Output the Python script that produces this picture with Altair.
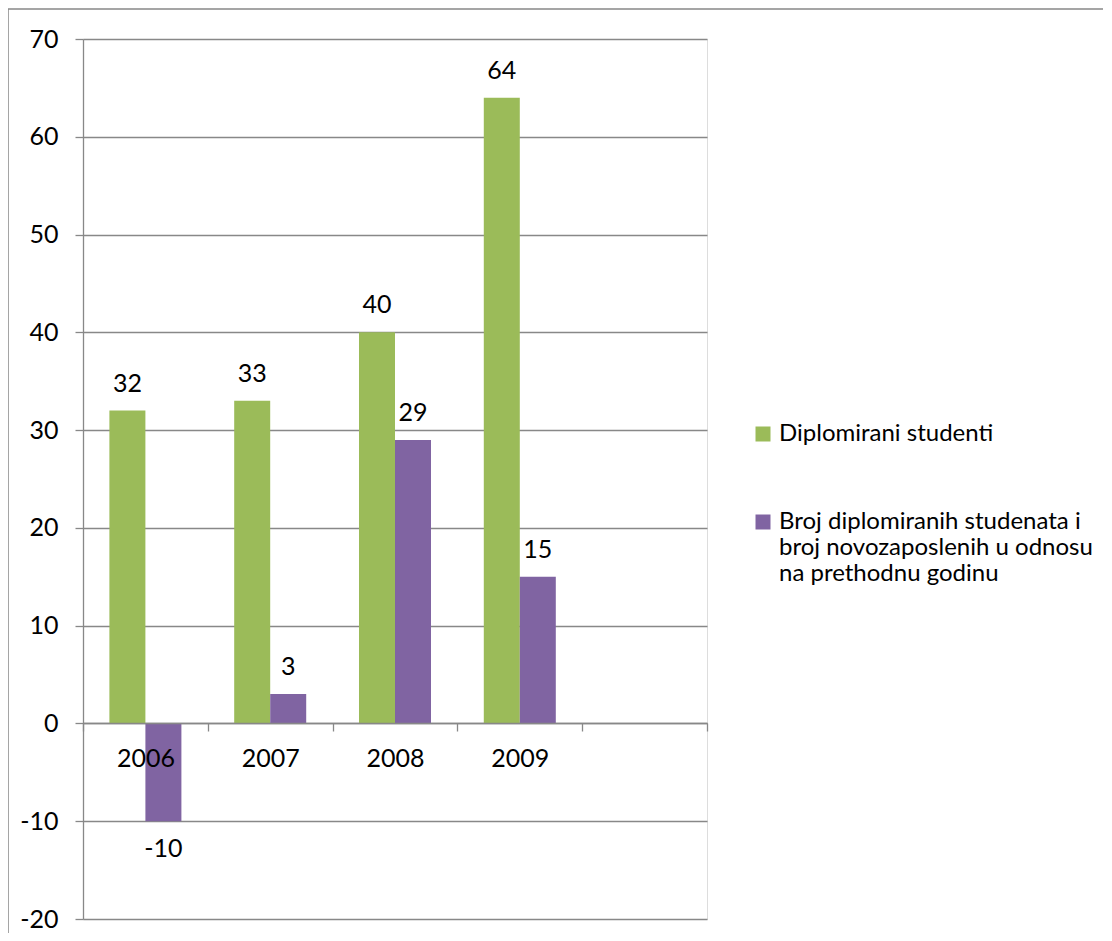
import altair as alt
import pandas as pd

years = ["2006", "2007", "2008", "2009"]
categories = years + [" "]
series_names = [
    "Diplomirani studenti",
    "Broj diplomiranih studenata i broj novozaposlenih u odnosu na prethodnu godinu",
]
legend_lines = ["Broj diplomiranih studenata i", "broj novozaposlenih u odnosu", "na prethodnu godinu"]
graduates = [32, 33, 40, 64]
difference = [-10, 3, 29, 15]
colors = ["#9BBB59", "#8064A2"]
y_ticks = list(range(-20, 71, 10))

rows = []
for yr, g, d in zip(years, graduates, difference):
    rows.append({"year": yr, "series": series_names[0], "value": g})
    rows.append({"year": yr, "series": series_names[1], "value": d})
df = pd.DataFrame(rows)

FONT = "Lato"
FS = 25
LFS = 24
GRID = "#888888"
W, H = 624, 880

label_expr = (
    "datum.label == '" + series_names[1] + "' ? ["
    + ",".join("'" + s + "'" for s in legend_lines)
    + "] : datum.label"
)

x_enc = alt.X(
    "year:N",
    scale=alt.Scale(domain=categories, paddingInner=0, paddingOuter=0),
    axis=alt.Axis(
        title=None, labelAngle=0, tickBand="extent", offset=-196, zindex=1,
        domainColor=GRID, tickColor=GRID, tickSize=8, domainWidth=1.3, tickWidth=1.3,
        labelPadding=15, labelFontSize=FS, labelFont=FONT, labelColor="black",
        grid=False,
    ),
)
y_enc = alt.Y(
    "value:Q",
    scale=alt.Scale(domain=[-20, 70], nice=False, zero=False),
    axis=alt.Axis(
        title=None, values=y_ticks, grid=True, gridColor=GRID, gridWidth=1.3,
        domainColor=GRID, domainWidth=1.3, tickColor=GRID, tickWidth=1.3, tickSize=8,
        labelPadding=17, labelFontSize=FS, labelFont=FONT, labelColor="black",
        labelExpr="replace(datum.label, '\u2212', '-')",
    ),
)
xoff = alt.XOffset(
    "series:N",
    scale=alt.Scale(domain=series_names, paddingOuter=0.733, paddingInner=0),
)
color = alt.Color(
    "series:N",
    scale=alt.Scale(domain=series_names, range=colors),
    legend=alt.Legend(
        title=None, orient="none", legendX=668, legendY=383,
        symbolType="square", symbolSize=225, symbolStrokeWidth=0,
        labelFont=FONT, labelFontSize=LFS, labelColor="black", labelOffset=4,
        labelLimit=500, rowPadding=64, labelExpr=label_expr,
    ),
)

base = alt.Chart(df).transform_calculate(txt="'' + datum.value")
bars = base.mark_bar(size=36).encode(x=x_enc, y=y_enc, xOffset=xoff, color=color)

pos_text = base.transform_filter("datum.value >= 0").mark_text(
    dy=-27, baseline="middle", font=FONT, fontSize=FS, color="black"
).encode(x=alt.X("year:N"), y=alt.Y("value:Q"), xOffset=alt.XOffset("series:N"), text="txt:N")
neg_text = base.transform_filter("datum.value < 0").mark_text(
    dy=28, baseline="middle", font=FONT, fontSize=FS, color="black"
).encode(x=alt.X("year:N"), y=alt.Y("value:Q"), xOffset=alt.XOffset("series:N"), text="txt:N")

frame = alt.Chart(pd.DataFrame({"f": [0]})).mark_rect(
    fill=None, stroke="#888888", strokeWidth=1.5
).encode(x=alt.value(-75), x2=alt.value(W + 600), y=alt.value(-30), y2=alt.value(H + 200))

chart = alt.layer(frame, bars, pos_text, neg_text).properties(
    width=W, height=H,
    autosize=alt.AutoSizeParams(type="none"),
    padding={"left": 75, "top": 31, "right": 396, "bottom": 14},
).configure_view(stroke=None).configure(background="white")

chart.save("out.html", embed_options={"renderer": "svg", "actions": False})
